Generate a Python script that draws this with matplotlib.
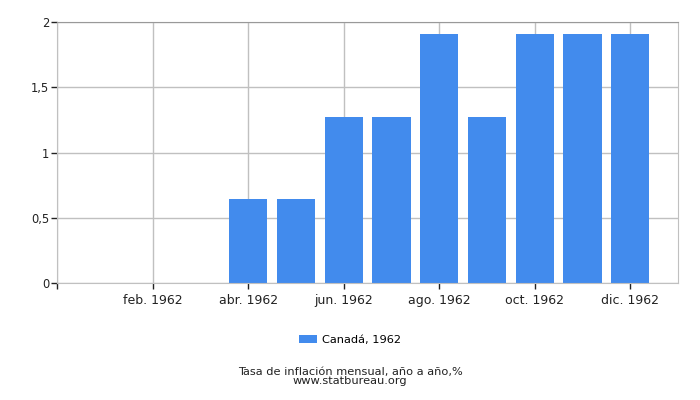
import matplotlib
matplotlib.use("Agg")
import matplotlib.pyplot as plt
import numpy as np

months = ["ene. 1962", "feb. 1962", "mar. 1962", "abr. 1962", "may. 1962", "jun. 1962",
          "jul. 1962", "ago. 1962", "sep. 1962", "oct. 1962", "nov. 1962", "dic. 1962"]
values = [0, 0, 0, 0.64, 0.64, 1.27, 1.27, 1.91, 1.27, 1.91, 1.91, 1.91]
series_label = "Canadá, 1962"
yticks = [0, 0.5, 1, 1.5, 2]
ytick_labels = ["0", "0,5", "1", "1,5", "2"]
title = "Tasa de inflación mensual, año a año,%"
source = "www.statbureau.org"

plt.rcParams['font.family'] = ['DejaVu Sans']
fig = plt.figure(figsize=(7, 4), dpi=100)
ax = fig.add_axes([0.082, 0.2925, 0.8866, 0.6525])

x = np.arange(len(months))
ax.bar(x, values, width=0.8, color="#428bed", label=series_label, zorder=2)

ax.set_xlim(-1, 12)
ax.set_ylim(0, 2)
tick_pos = [-1] + list(x[1::2])
tick_lab = [""] + [months[i] for i in x[1::2]]
ax.set_xticks(tick_pos)
ax.set_xticklabels(tick_lab, fontsize=9, color="#222222")
ax.set_yticks(yticks)
ax.set_yticklabels(ytick_labels, fontsize=8.3, color="#222222")
ax.grid(True, color="#c0c0c0", linewidth=1, zorder=0)
ax.set_axisbelow(True)
ax.tick_params(axis='both', length=4, width=1, color="#222222", pad=2)
ax.tick_params(axis='x', pad=4)
for s in ["left", "right", "bottom"]:
    ax.spines[s].set_color("#c0c0c0")
ax.spines["top"].set_color("#999999")

handles, labels = ax.get_legend_handles_labels()
fig.legend(handles, labels, loc="center", bbox_to_anchor=(0.5, 1 - 340/400), frameon=False,
           fontsize=8.2, handlelength=1.6, handleheight=0.7, handletextpad=0.4)
fig.text(0.5, 1 - 371.5/400, title, ha="center", va="center", fontsize=8.2, color="#222222")
fig.text(0.5, 1 - 381.5/400, source, ha="center", va="center", fontsize=8.2, color="#222222")

fig.savefig("out.png", dpi=100)
